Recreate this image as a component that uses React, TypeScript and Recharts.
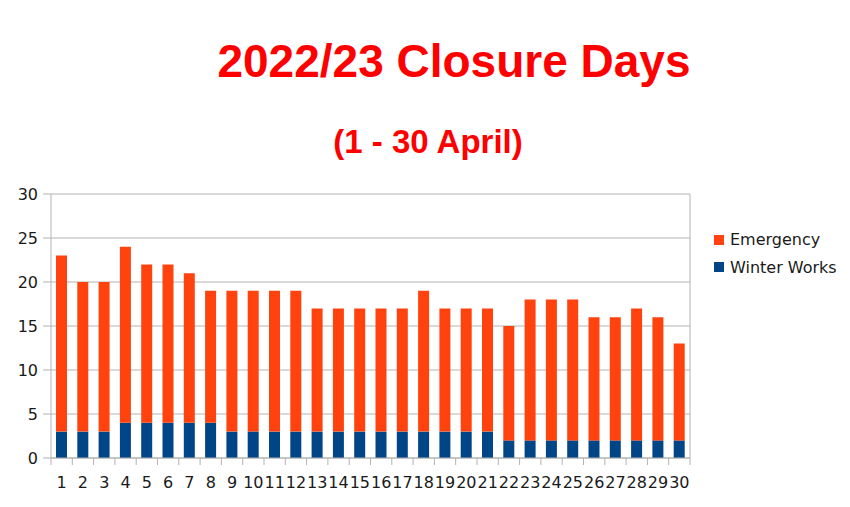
import { Bar, BarChart, CartesianGrid, XAxis, YAxis } from "recharts";

const days = [
  "1", "2", "3", "4", "5", "6", "7", "8", "9", "10",
  "11", "12", "13", "14", "15", "16", "17", "18", "19", "20",
  "21", "22", "23", "24", "25", "26", "27", "28", "29", "30",
];
const winterWorks = [3, 3, 3, 4, 4, 4, 4, 4, 3, 3, 3, 3, 3, 3, 3, 3, 3, 3, 3, 3, 3, 2, 2, 2, 2, 2, 2, 2, 2, 2];
const emergency = [20, 17, 17, 20, 18, 18, 17, 15, 16, 16, 16, 16, 14, 14, 14, 14, 14, 16, 14, 14, 14, 13, 16, 16, 16, 14, 14, 15, 14, 11];
const yTicks = [0, 5, 10, 15, 20, 25, 30];

const data = days.map((day, i) => ({
  day,
  winter: winterWorks[i],
  emergency: emergency[i],
}));

const ORANGE = "#ff420e";
const BLUE = "#004586";
const GRID = "#b3b3b3";
const TITLE_FONT = "'Liberation Sans', Arial, sans-serif";
const FONT = "'DejaVu Sans', sans-serif";

const W = 850;
const H = 507;
const M = { top: 194, right: 160, left: 0, bottom: 0 };
const Y_W = 51;
const step = (W - M.right - M.left - Y_W) / days.length;

const legendItems = [
  { name: "Emergency", color: ORANGE },
  { name: "Winter Works", color: BLUE },
];

// x ticks sit on the category boundaries, labels in the middle
function DayTick(props: any) {
  const { x, y, payload, index } = props;
  const top = y - 18;
  return (
    <g>
      <line x1={x - step / 2} x2={x - step / 2} y1={top} y2={top + 7} stroke={GRID} />
      {index === days.length - 1 && (
        <line x1={x + step / 2} x2={x + step / 2} y1={top} y2={top + 7} stroke={GRID} />
      )}
      <text x={x} y={y} dy={12} textAnchor="middle" fill="#1a1a1a" fontSize={16} fontFamily={FONT}>
        {payload.value}
      </text>
    </g>
  );
}

export default function App() {
  return (
    <div style={{ position: "absolute", left: 0, top: 0, width: W, height: H, background: "#fff" }}>
      <div
        style={{
          position: "absolute", left: 0, width: 908, top: 33, textAlign: "center",
          fontFamily: TITLE_FONT, fontWeight: "bold", fontSize: 46, color: "#ff0000", lineHeight: "56px",
        }}
      >
        2022/23 Closure Days
      </div>
      <div
        style={{
          position: "absolute", left: 0, width: 856, top: 122, textAlign: "center",
          fontFamily: TITLE_FONT, fontWeight: "bold", fontSize: 33, color: "#ff0000", lineHeight: "40px",
        }}
      >
        (1 - 30 April)
      </div>
      <div style={{ position: "absolute", left: 714, top: 226, fontFamily: FONT, fontSize: 16, color: "#1a1a1a" }}>
        {legendItems.map((p) => (
          <div key={p.name} style={{ display: "flex", alignItems: "center", height: 27.5 }}>
            <span style={{ width: 10, height: 10, background: p.color, marginRight: 6, display: "inline-block" }} />
            {p.name}
          </div>
        ))}
      </div>
      <BarChart width={W} height={H} data={data} margin={M} barSize={11}>
        <CartesianGrid
          stroke={GRID}
          verticalCoordinatesGenerator={({ offset }: any) => [offset.left + offset.width]}
        />
        <XAxis
          dataKey="day"
          height={49}
          interval={0}
          tickLine={false}
          axisLine={{ stroke: GRID }}
          tick={<DayTick />}
          tickMargin={11}
          tickSize={7}
        />
        <YAxis
          width={Y_W}
          domain={[0, 30]}
          ticks={yTicks}
          interval={0}
          tickSize={8}
          tickMargin={5}
          axisLine={{ stroke: GRID }}
          tickLine={{ stroke: GRID }}
          tick={{ fill: "#1a1a1a", fontSize: 16, fontFamily: FONT }}
        />
        <Bar dataKey="winter" name="Winter Works" stackId="a" fill={BLUE} isAnimationActive={false} />
        <Bar dataKey="emergency" name="Emergency" stackId="a" fill={ORANGE} isAnimationActive={false} />
      </BarChart>
    </div>
  );
}
